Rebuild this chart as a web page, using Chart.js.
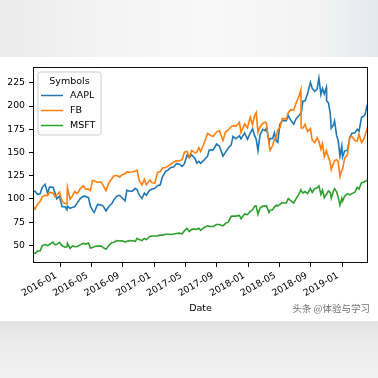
<!DOCTYPE html>
<html><head><meta charset="utf-8">
<script src="https://cdn.jsdelivr.net/npm/chart.js@4.4.1/dist/chart.umd.min.js"></script>
<style>
html,body{margin:0;padding:0;width:378px;height:378px;overflow:hidden;background:#fff;}
#top{position:absolute;left:0;top:0;width:378px;height:57px;background:linear-gradient(90deg,#ebebeb 0%,#f3f3f3 25%,#f8f8f8 55%,#f3f3f3 85%,#e4e9ee 100%);}
#bot{position:absolute;left:0;top:321px;width:378px;height:57px;background:linear-gradient(180deg,#e2e2e2 0%,#ebebeb 35%,#f1f1f1 100%);}
#c{position:absolute;left:0;top:0;}
#wm{position:absolute;right:8px;top:301px;font-size:9.5px;font-family:"Noto Sans CJK SC";color:#707070;white-space:nowrap;line-height:14px;}
</style></head><body>
<div id="top"></div><div id="bot"></div>
<canvas id="c" width="378" height="378"></canvas>
<div id="wm">头条 @体验与学习</div>
<script>
const dates = ['2015-09-17','2015-09-25','2015-10-05','2015-10-15','2015-10-23','2015-11-03','2015-11-13','2015-11-20','2015-12-04','2015-12-11','2015-12-18','2015-12-29',
'2016-01-08','2016-01-20','2016-01-27','2016-01-29','2016-02-08','2016-02-18','2016-02-26','2016-03-08','2016-03-18','2016-03-31','2016-04-08','2016-04-20','2016-04-27','2016-05-06','2016-05-12','2016-05-25','2016-06-08','2016-06-16','2016-06-27','2016-07-08','2016-07-20','2016-07-28','2016-08-08','2016-08-19','2016-08-30','2016-09-09','2016-09-16','2016-09-28','2016-10-07','2016-10-19','2016-10-26','2016-11-03','2016-11-14','2016-11-23','2016-12-01','2016-12-14','2016-12-23',
'2017-01-03','2017-01-13','2017-01-24','2017-02-01','2017-02-14','2017-02-24','2017-03-06','2017-03-17','2017-03-28','2017-04-07','2017-04-19','2017-04-28','2017-05-08','2017-05-17','2017-05-26','2017-06-09','2017-06-15','2017-06-23','2017-06-30','2017-07-12','2017-07-27','2017-08-02','2017-08-11','2017-08-18','2017-08-31','2017-09-11','2017-09-25','2017-10-05','2017-10-16','2017-10-27','2017-11-03','2017-11-14','2017-11-28','2017-12-04','2017-12-18','2017-12-29',
'2018-01-09','2018-01-18','2018-01-26','2018-02-01','2018-02-08','2018-02-16','2018-02-27','2018-03-08','2018-03-13','2018-03-23','2018-03-27','2018-04-06','2018-04-13','2018-04-20','2018-04-26','2018-05-04','2018-05-14','2018-05-29','2018-06-06','2018-06-15','2018-06-27','2018-07-06','2018-07-17','2018-07-25','2018-07-26','2018-08-02','2018-08-10','2018-08-20','2018-08-31','2018-09-07','2018-09-17','2018-09-26','2018-10-03','2018-10-11','2018-10-17','2018-10-24','2018-11-01','2018-11-02','2018-11-09','2018-11-16','2018-11-20','2018-11-29','2018-12-03','2018-12-11','2018-12-17','2018-12-24','2018-12-31',
'2019-01-03','2019-01-11','2019-01-22','2019-01-31','2019-02-08','2019-02-20','2019-03-01','2019-03-08','2019-03-18','2019-03-25','2019-04-01','2019-04-08','2019-04-12'];

const aapl = [107.7,108.4,104.7,105.7,112.5,115.8,106.2,112.7,112.5,107.0,100.2,102.8,
91.6,91.5,88.3,92.0,89.8,91.0,91.6,96.0,100.1,103.0,102.7,101.2,92.4,87.6,85.4,94.1,93.5,92.2,87.0,91.8,95.0,99.1,103.0,103.9,100.7,98.0,109.2,108.3,108.4,111.3,109.8,104.3,100.4,106.2,104.0,109.4,110.7,
111.5,114.3,115.2,123.6,129.6,131.2,133.8,134.4,138.0,137.6,135.1,137.9,146.9,144.2,147.5,143.0,138.5,140.4,138.3,141.4,146.0,152.4,152.8,152.8,159.1,156.7,146.0,150.4,155.1,158.2,167.3,164.7,167.9,164.7,171.1,164.2,
170.8,175.5,168.1,164.4,152.0,169.0,174.8,173.4,176.5,161.6,165.0,165.0,171.2,162.4,160.9,180.2,184.4,184.1,189.6,185.1,180.5,186.1,189.5,192.3,192.1,205.3,205.5,213.3,225.4,219.1,215.7,218.2,230.0,212.3,219.0,212.9,220.0,205.4,203.5,192.6,176.1,180.0,183.9,167.8,163.1,146.1,157.0,
145.0,151.5,152.5,165.6,170.4,171.1,175.0,172.9,188.0,188.7,191.2,200.1,198.9];

const fb = [92.0,89.0,94.4,97.5,102.2,103.9,103.6,107.3,106.2,102.7,104.0,107.3,
97.3,95.0,94.5,112.2,99.8,103.5,107.9,105.7,111.0,114.1,110.6,110.5,108.9,119.8,119.5,117.7,118.4,114.4,109.0,117.2,121.9,125.0,125.1,123.6,126.1,127.1,129.1,128.7,129.0,130.1,131.0,120.0,115.1,121.0,115.1,120.2,117.3,
116.9,128.3,129.4,133.2,133.8,135.4,137.4,139.8,140.9,140.8,142.3,150.3,151.1,144.9,152.1,149.6,150.2,155.1,151.0,158.9,170.4,169.3,168.1,167.4,172.0,173.5,162.9,172.2,174.5,177.9,178.9,178.1,182.4,171.5,180.8,176.5,
187.9,179.8,190.0,193.1,171.6,177.4,181.5,182.6,181.9,159.4,152.2,157.2,164.5,166.3,174.2,176.6,186.6,185.9,192.9,195.8,195.8,203.2,210.0,217.5,176.3,176.4,180.3,172.5,175.7,163.0,160.6,165.9,162.4,153.4,159.4,145.4,151.8,150.4,145.0,139.5,131.6,138.7,141.1,142.1,140.2,124.1,131.1,
131.7,143.8,147.6,166.7,167.3,162.6,162.3,169.6,160.5,163.6,168.7,174.9,179.1];

const msft = [41.6,41.3,43.8,44.2,49.7,50.9,49.7,50.9,53.5,50.8,50.9,53.2,
49.5,48.0,48.4,52.1,46.7,49.3,48.5,48.8,50.5,52.2,51.4,52.5,47.1,47.6,48.7,49.3,49.2,47.6,45.8,49.7,53.1,53.4,55.2,54.7,55.0,53.4,54.4,55.1,54.9,54.4,57.6,56.2,55.2,57.4,56.2,59.5,60.1,
60.1,60.2,61.0,61.0,62.0,62.0,61.7,62.3,62.7,63.1,62.4,65.7,68.4,64.8,67.2,67.5,67.1,68.4,66.2,69.0,71.0,70.4,70.3,70.3,72.5,72.5,71.1,73.7,75.3,81.3,81.6,81.5,82.3,78.6,83.8,83.0,
86.5,88.3,92.2,92.4,83.3,90.2,92.3,92.5,92.5,85.4,87.7,88.4,91.2,93.1,92.4,94.0,96.1,95.4,100.4,98.1,95.6,100.1,104.9,109.7,108.5,106.5,107.9,105.8,111.2,107.1,111.0,111.9,114.0,104.9,109.6,101.3,104.9,105.1,108.5,107.2,100.7,109.1,111.0,107.5,101.9,93.2,100.6,
97.4,102.8,105.7,104.4,105.7,107.2,112.5,110.5,117.6,117.7,119.0,119.9,121.0];

const symbols = ['AAPL','FB','MSFT'];
const xTickLabels = ['2016-01','2016-05','2016-09','2017-01','2017-05','2017-09','2018-01','2018-05','2018-09','2019-01'];
const yTickValues = [50,75,100,125,150,175,200,225];
const legendTitle = 'Symbols';
const xTitle = 'Date';

const toDay = s => { const p = s.split('-').map(Number); return Date.UTC(p[0], p[1]-1, p[2] || 1) / 86400000; };
const series = [aapl, fb, msft];
const colors = ['#1f77b4', '#ff7f0e', '#2ca02c'];
const FONT = 'DejaVu Sans';

const datasets = symbols.map((name, i) => ({
  label: name,
  data: dates.map((d, j) => ({x: toDay(d), y: series[i][j]})),
  borderColor: colors[i],
  backgroundColor: colors[i],
  borderWidth: 1.6,
  pointRadius: 0,
  fill: false,
  tension: 0,
  order: 3 - i
}));

const framePlugin = {
  id: 'frame',
  afterDatasetsDraw(chart) {
    const {ctx, chartArea: a} = chart;
    ctx.save();
    ctx.strokeStyle = '#111';
    ctx.lineWidth = 1;
    ctx.strokeRect(Math.round(a.left) + 0.5, Math.round(a.top) + 0.5, Math.round(a.right - a.left) - 1, Math.round(a.bottom - a.top) - 1);
    ctx.restore();
  }
};

const legendPlugin = {
  id: 'mplLegend',
  afterDraw(chart) {
    const {ctx, chartArea: a} = chart;
    const x = a.left + 5, y = a.top + 5, w = 63, h = 63, r = 2.5;
    ctx.save();
    ctx.beginPath();
    ctx.moveTo(x + r, y);
    ctx.arcTo(x + w, y, x + w, y + h, r);
    ctx.arcTo(x + w, y + h, x, y + h, r);
    ctx.arcTo(x, y + h, x, y, r);
    ctx.arcTo(x, y, x + w, y, r);
    ctx.closePath();
    ctx.fillStyle = 'rgba(255,255,255,0.85)';
    ctx.fill();
    ctx.strokeStyle = '#cccccc';
    ctx.lineWidth = 1;
    ctx.stroke();
    ctx.fillStyle = '#000';
    ctx.font = '9.5px "' + FONT + '"';
    ctx.textBaseline = 'middle';
    ctx.textAlign = 'center';
    ctx.fillText(legendTitle, x + w / 2, y + 9.5);
    ctx.textAlign = 'left';
    chart.data.datasets.forEach((ds, i) => {
      const ly = y + 23.5 + i * 15;
      ctx.strokeStyle = ds.borderColor;
      ctx.lineWidth = 1.5;
      ctx.beginPath();
      ctx.moveTo(x + 3, ly);
      ctx.lineTo(x + 25, ly);
      ctx.stroke();
      ctx.fillStyle = '#000';
      ctx.fillText(ds.label, x + 32, ly);
    });
    ctx.restore();
  }
};

new Chart(document.getElementById('c'), {
  type: 'line',
  data: {datasets},
  options: {
    responsive: false,
    animation: false,
    devicePixelRatio: 1,
    layout: {padding: {left: 0, right: 10, top: 67, bottom: 58}},
    plugins: {legend: {display: false}, tooltip: {enabled: false}},
    scales: {
      x: {
        type: 'linear',
        min: toDay(dates[0]),
        max: toDay(dates[dates.length - 1]),
        afterBuildTicks: s => { s.ticks = xTickLabels.map(l => ({value: toDay(l)})); },
        afterFit: s => { s.height = 57; },
        grid: {display: true, drawOnChartArea: false, drawTicks: true, tickLength: 4, color: '#000', lineWidth: 1},
        border: {display: false},
        ticks: {
          autoSkip: false, minRotation: 30, maxRotation: 30, padding: 3, labelOffset: -4,
          color: '#000', font: {family: FONT, size: 9.3},
          callback: v => { const d = new Date(v * 86400000); return d.getUTCFullYear() + '-' + String(d.getUTCMonth() + 1).padStart(2, '0'); }
        },
        title: {display: true, text: xTitle, color: '#000', font: {family: FONT, size: 9.5}, padding: {top: 0, bottom: 6}}
      },
      y: {
        type: 'linear',
        min: 31,
        max: 242,
        afterBuildTicks: s => { s.ticks = yTickValues.map(v => ({value: v})); },
        afterFit: s => { s.width = 33; },
        grid: {display: true, drawOnChartArea: false, drawTicks: true, tickLength: 4, color: '#000', lineWidth: 1},
        border: {display: false},
        ticks: {color: '#000', font: {family: FONT, size: 9.3}, padding: 4}
      }
    }
  },
  plugins: [framePlugin, legendPlugin]
});
</script>
</body></html>
